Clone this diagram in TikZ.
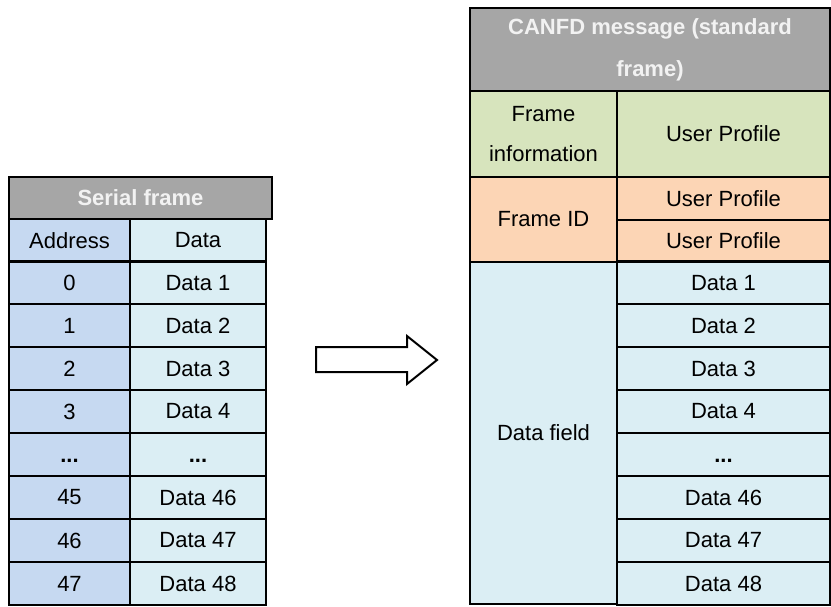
\documentclass[tikz,border=0pt]{standalone}
\usepackage{fontspec}
\setmainfont{Liberation Sans}
\definecolor{hdGray}{HTML}{A6A6A6}
\definecolor{hdText}{HTML}{F2F2F2}
\definecolor{addrBlue}{HTML}{C6D9F1}
\definecolor{dataAqua}{HTML}{DBEEF4}
\definecolor{infoGreen}{HTML}{D7E4BD}
\definecolor{idOrange}{HTML}{FCD5B5}
\newcommand{\frmDots}{\textbf{\vphantom{D}...}}
\begin{document}
\begin{tikzpicture}[x=1pt, y=-1pt,
    frmCellStyle/.style={draw, line width=2.5pt, inner sep=0pt, outer sep=0pt, align=center,
        font=\fontsize{22}{40}\selectfont},
    frmHeadStyle/.style={frmCellStyle, fill=hdGray, text=hdText, font=\fontsize{22}{42}\selectfont\bfseries},
    frmAddrStyle/.style={frmCellStyle, fill=addrBlue, minimum width=121pt, minimum height=43pt},
    frmDataStyle/.style={frmCellStyle, fill=dataAqua, minimum width=136pt, minimum height=43pt},
    frmRowStyle/.style={frmCellStyle, fill=dataAqua, minimum width=213pt, minimum height=43pt}]

    \useasboundingbox (0, 0) rectangle (831, 606);

    % Serial frame table
    \node[frmHeadStyle, minimum width=263pt, minimum height=42pt] (serHead) at (140.5, 198) {Serial frame};
    \node[frmAddrStyle] (serAddr) at (69.5, 240.5) {Address};
    \node[frmDataStyle] (serData) at (198, 240.5) {Data};
    \node[frmAddrStyle] (serA0) at (69.5, 283) {0};
    \node[frmDataStyle] (serD1) at (198, 283) {Data 1};
    \node[frmAddrStyle] (serA1) at (69.5, 325.5) {1};
    \node[frmDataStyle] (serD2) at (198, 325.5) {Data 2};
    \node[frmAddrStyle] (serA2) at (69.5, 368.5) {2};
    \node[frmDataStyle] (serD3) at (198, 368.5) {Data 3};
    \node[frmAddrStyle] (serA3) at (69.5, 411.5) {3};
    \node[frmDataStyle] (serD4) at (198, 411.5) {Data 4};
    \node[frmAddrStyle] (serAdots) at (69.5, 454.5) {\frmDots};
    \node[frmDataStyle] (serDdots) at (198, 454.5) {\frmDots};
    \node[frmAddrStyle] (serA45) at (69.5, 497.5) {45};
    \node[frmDataStyle] (serD46) at (198, 497.5) {Data 46};
    \node[frmAddrStyle] (serA46) at (69.5, 540.5) {46};
    \node[frmDataStyle] (serD47) at (198, 540.5) {Data 47};
    \node[frmAddrStyle] (serA47) at (69.5, 583.5) {47};
    \node[frmDataStyle] (serD48) at (198, 583.5) {Data 48};

    % Block arrow
    \draw[line width=2pt, line join=miter] (316, 347) -- (407, 347) -- (407, 336) -- (437, 360)
        -- (407, 384) -- (407, 372) -- (316, 372) -- cycle;

    % CANFD message table
    \node[frmHeadStyle, minimum width=360pt, minimum height=83pt] (canHead) at (650, 49.5)
        {CANFD message (standard\\frame)};
    \node[frmCellStyle, fill=infoGreen, minimum width=147pt, minimum height=86pt] (canInfo) at (543.5, 134)
        {Frame\\information};
    \node[frmCellStyle, fill=infoGreen, minimum width=213pt, minimum height=86pt] (canInfoUP) at (723.5, 134)
        {User Profile};
    \node[frmCellStyle, fill=idOrange, minimum width=147pt, minimum height=85pt] (canID) at (543.5, 219.5) {Frame ID};
    \node[frmCellStyle, fill=idOrange, minimum width=213pt, minimum height=43pt] (canIDa) at (723.5, 198.5) {User Profile};
    \node[frmCellStyle, fill=idOrange, minimum width=213pt, minimum height=42pt] (canIDb) at (723.5, 241) {User Profile};
    \node[frmCellStyle, fill=dataAqua, minimum width=147pt, minimum height=342pt] (canField) at (543.5, 433) {Data field};
    \node[frmRowStyle] (canD1) at (723.5, 283) {Data 1};
    \node[frmRowStyle] (canD2) at (723.5, 325.5) {Data 2};
    \node[frmRowStyle] (canD3) at (723.5, 368.5) {Data 3};
    \node[frmRowStyle] (canD4) at (723.5, 411.5) {Data 4};
    \node[frmRowStyle] (canDdots) at (723.5, 454.5) {\frmDots};
    \node[frmRowStyle] (canD46) at (723.5, 497.5) {Data 46};
    \node[frmRowStyle] (canD47) at (723.5, 540.5) {Data 47};
    \node[frmRowStyle] (canD48) at (723.5, 583.5) {Data 48};
\end{tikzpicture}
\end{document}
